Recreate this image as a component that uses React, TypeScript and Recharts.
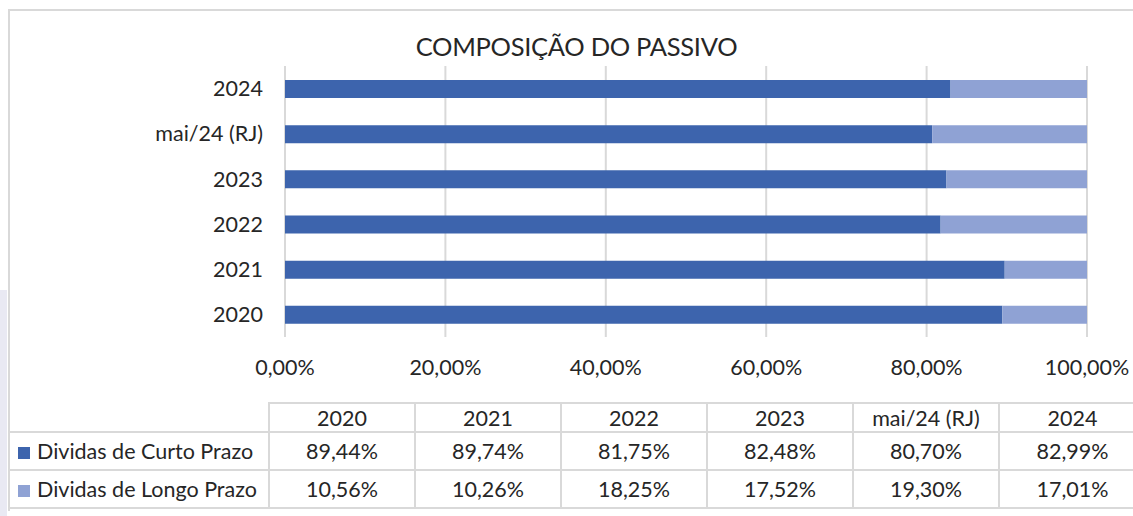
import React from 'react';
import { BarChart, Bar, XAxis, YAxis, CartesianGrid } from 'recharts';

const categories = ['2020', '2021', '2022', '2023', 'mai/24 (RJ)', '2024'];
const curtoPrazo = [89.44, 89.74, 81.75, 82.48, 80.7, 82.99];
const longoPrazo = [10.56, 10.26, 18.25, 17.52, 19.3, 17.01];
const xTicks = [0, 20, 40, 60, 80, 100];

const seriesNames = ['Dividas de Curto Prazo', 'Dividas de Longo Prazo'];
const colors = ['#3D64AD', '#8FA2D4'];

const fmt = (v: number) => v.toFixed(2).replace('.', ',') + '%';

const data = categories.map((name, i) => ({
  name,
  curto: curtoPrazo[i],
  longo: longoPrazo[i],
}));

const font = "Lato, 'Open Sans', sans-serif";
const textColor = '#262626';
const line = '2px solid #D9D9D9';
const fs = 21.5;

const App = () => {
  const cell: React.CSSProperties = {
    borderLeft: line,
    borderBottom: line,
    textAlign: 'center',
    padding: 0,
  };
  return (
    <div
      style={{
        position: 'absolute',
        left: 0,
        top: 0,
        width: 1133,
        height: 516,
        overflow: 'hidden',
        background: '#fff',
        fontFamily: font,
        color: textColor,
      }}
    >
      {/* faint strip on the left edge */}
      <div style={{ position: 'absolute', left: 0, top: 290, width: 7, height: 226, background: '#E9E9F3' }} />
      {/* outer frame */}
      <div
        style={{
          position: 'absolute',
          left: 8,
          top: 9,
          width: 1200,
          height: 500,
          borderLeft: line,
          borderTop: line,
        }}
      />
      <div
        style={{
          position: 'absolute',
          left: 8,
          width: 1137,
          top: 31,
          textAlign: 'center',
          fontSize: 25.5,
          letterSpacing: -0.3,
        }}
      >
        COMPOSIÇÃO DO PASSIVO
      </div>
      <div style={{ position: 'absolute', left: 0, top: 0 }}>
        <BarChart
          width={1133}
          height={400}
          data={data}
          layout="vertical"
          barSize={18}
          margin={{ top: 66, right: 46, left: 0, bottom: 0 }}
        >
          <CartesianGrid horizontal={false} stroke="#D9D9D9" strokeWidth={2} />
          <XAxis
            type="number"
            domain={[0, 100]}
            ticks={xTicks}
            tickFormatter={fmt}
            axisLine={false}
            tickLine={false}
            tickSize={0}
            tickMargin={23}
            height={63}
            tick={{ fill: textColor, fontSize: fs, fontFamily: font }}
          />
          <YAxis
            type="category"
            dataKey="name"
            reversed
            width={285}
            axisLine={false}
            tickLine={false}
            tickSize={0}
            tickMargin={22}
            tick={{ fill: textColor, fontSize: fs, fontFamily: font }}
          />
          <Bar dataKey="curto" stackId="a" fill={colors[0]} isAnimationActive={false} />
          <Bar dataKey="longo" stackId="a" fill={colors[1]} isAnimationActive={false} />
        </BarChart>
      </div>
      <table
        style={{
          position: 'absolute',
          left: 8,
          top: 402,
          width: 1137,
          tableLayout: 'fixed',
          borderCollapse: 'collapse',
          fontSize: fs,
          fontFamily: font,
          color: textColor,
        }}
      >
        <colgroup>
          <col style={{ width: 261 }} />
          {categories.map((c) => (
            <col key={c} style={{ width: 146 }} />
          ))}
        </colgroup>
        <tbody>
          <tr style={{ height: 29 }}>
            <td style={{ padding: 0, borderBottom: line }} />
            {categories.map((c) => (
              <td key={c} style={{ ...cell, borderTop: line }}>
                {c}
              </td>
            ))}
          </tr>
          {[curtoPrazo, longoPrazo].map((vals, r) => (
            <tr key={r} style={{ height: 38 }}>
              <td style={{ padding: '0 0 0 10px', borderBottom: line, whiteSpace: 'nowrap' }}>
                <span
                  style={{
                    display: 'inline-block',
                    width: 12,
                    height: 12,
                    background: colors[r],
                    marginRight: 7,
                  }}
                />
                {seriesNames[r]}
              </td>
              {vals.map((v, i) => (
                <td key={i} style={cell}>
                  {fmt(v)}
                </td>
              ))}
            </tr>
          ))}
        </tbody>
      </table>
    </div>
  );
};

export default App;
